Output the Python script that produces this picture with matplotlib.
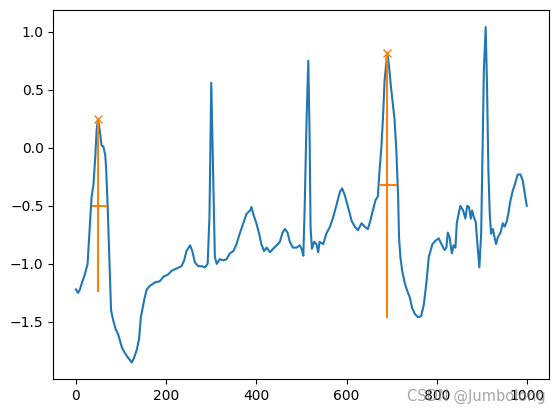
import numpy as np
import matplotlib
matplotlib.use("Agg")
import matplotlib.pyplot as plt

# ECG trace, sample index and value
sample_idx = [
    0, 5, 9, 13, 20, 26, 29, 33, 35, 39, 43, 46, 49, 54, 57, 61, 65, 67, 70, 73,
    76, 78, 83, 88, 94, 102, 109, 116, 124, 129, 135, 140, 144, 148, 152, 157, 164, 175, 186, 194,
    205, 212, 223, 234, 240, 245, 253, 258, 264, 271, 279, 286, 292, 296, 300, 306, 308, 312, 319, 327,
    334, 341, 349, 356, 363, 371, 378, 386, 389, 393, 400, 406, 411, 417, 423, 430, 437, 445, 452, 458,
    463, 469, 474, 481, 489, 496, 500, 504, 507, 511, 515, 518, 520, 523, 528, 533, 537, 540, 548, 555,
    563, 570, 577, 585, 590, 596, 603, 611, 618, 625, 633, 640, 647, 653, 658, 664, 669, 673, 677, 681,
    684, 690, 694, 698, 703, 706, 710, 714, 716, 719, 723, 729, 734, 740, 745, 751, 758, 765, 771, 777,
    782, 790, 797, 804, 810, 817, 821, 824, 828, 833, 837, 841, 844, 848, 852, 858, 863, 867, 871, 875,
    878, 882, 886, 889, 894, 898, 901, 904, 908, 911, 914, 917, 920, 924, 928, 931, 935, 941, 946, 950,
    955, 959, 962, 968, 973, 979, 985, 990, 994, 999,
]
ecg = [
    -1.22, -1.25, -1.22, -1.17, -1.09, -1.00, -0.80, -0.54, -0.42, -0.32, -0.08, 0.15, 0.25, 0.12, 0.02, 0.01, -0.06, -0.17, -0.45, -0.80,
    -1.15, -1.40, -1.49, -1.56, -1.61, -1.72, -1.77, -1.81, -1.85, -1.81, -1.74, -1.65, -1.46, -1.38, -1.30, -1.22, -1.19, -1.16, -1.15, -1.11,
    -1.09, -1.06, -1.04, -1.02, -0.97, -0.89, -0.84, -0.89, -0.99, -1.02, -1.02, -1.03, -1.00, -0.60, 0.56, -0.60, -0.94, -1.00, -0.96, -0.97,
    -0.96, -0.91, -0.89, -0.83, -0.74, -0.65, -0.57, -0.54, -0.51, -0.57, -0.65, -0.74, -0.83, -0.89, -0.86, -0.90, -0.87, -0.84, -0.81, -0.73,
    -0.70, -0.73, -0.81, -0.86, -0.86, -0.84, -0.87, -0.93, -0.51, 0.21, 0.75, 0.07, -0.68, -0.87, -0.81, -0.83, -0.90, -0.81, -0.83, -0.74,
    -0.68, -0.60, -0.50, -0.38, -0.35, -0.41, -0.51, -0.63, -0.68, -0.71, -0.65, -0.68, -0.70, -0.62, -0.54, -0.45, -0.42, -0.19, 0.01, 0.30,
    0.58, 0.82, 0.70, 0.53, 0.35, 0.25, -0.02, -0.42, -0.77, -0.94, -1.06, -1.17, -1.23, -1.29, -1.38, -1.43, -1.46, -1.45, -1.35, -1.15,
    -0.94, -0.83, -0.80, -0.78, -0.83, -0.88, -0.86, -0.73, -0.77, -0.91, -0.84, -0.86, -0.65, -0.57, -0.50, -0.54, -0.61, -0.50, -0.51, -0.61,
    -0.54, -0.60, -0.64, -0.80, -1.03, -0.74, -0.05, 0.67, 1.04, 0.53, -0.19, -0.57, -0.74, -0.70, -0.78, -0.83, -0.77, -0.73, -0.65, -0.68,
    -0.63, -0.55, -0.47, -0.37, -0.31, -0.23, -0.23, -0.28, -0.38, -0.50,
]

# detected peaks and their properties
peaks = [49, 690]
prominences = [1.49, 2.285]
width_heights = [-0.50, -0.32]
left_ips = [35, 673]
right_ips = [70, 712]

x = np.array(sample_idx)
y = np.array(ecg)
peak_vals = np.array([y[sample_idx.index(p)] for p in peaks])

fig = plt.figure(figsize=(5.59, 4.13), dpi=100)
ax = fig.add_axes([53.3 / 559, (413 - 379.3) / 413, 496 / 559, 369 / 413])

ax.plot(x, y)
ax.plot(peaks, peak_vals, "x")
ax.vlines(x=peaks, ymin=peak_vals - np.array(prominences), ymax=peak_vals, color="C1")
ax.hlines(y=width_heights, xmin=left_ips, xmax=right_ips, color="C1")

fig.text(0.728, 0.03, "CSDN @Jumbolong", color="gray", alpha=0.7, fontsize=10.5)

fig.savefig("out.png", dpi=100)
